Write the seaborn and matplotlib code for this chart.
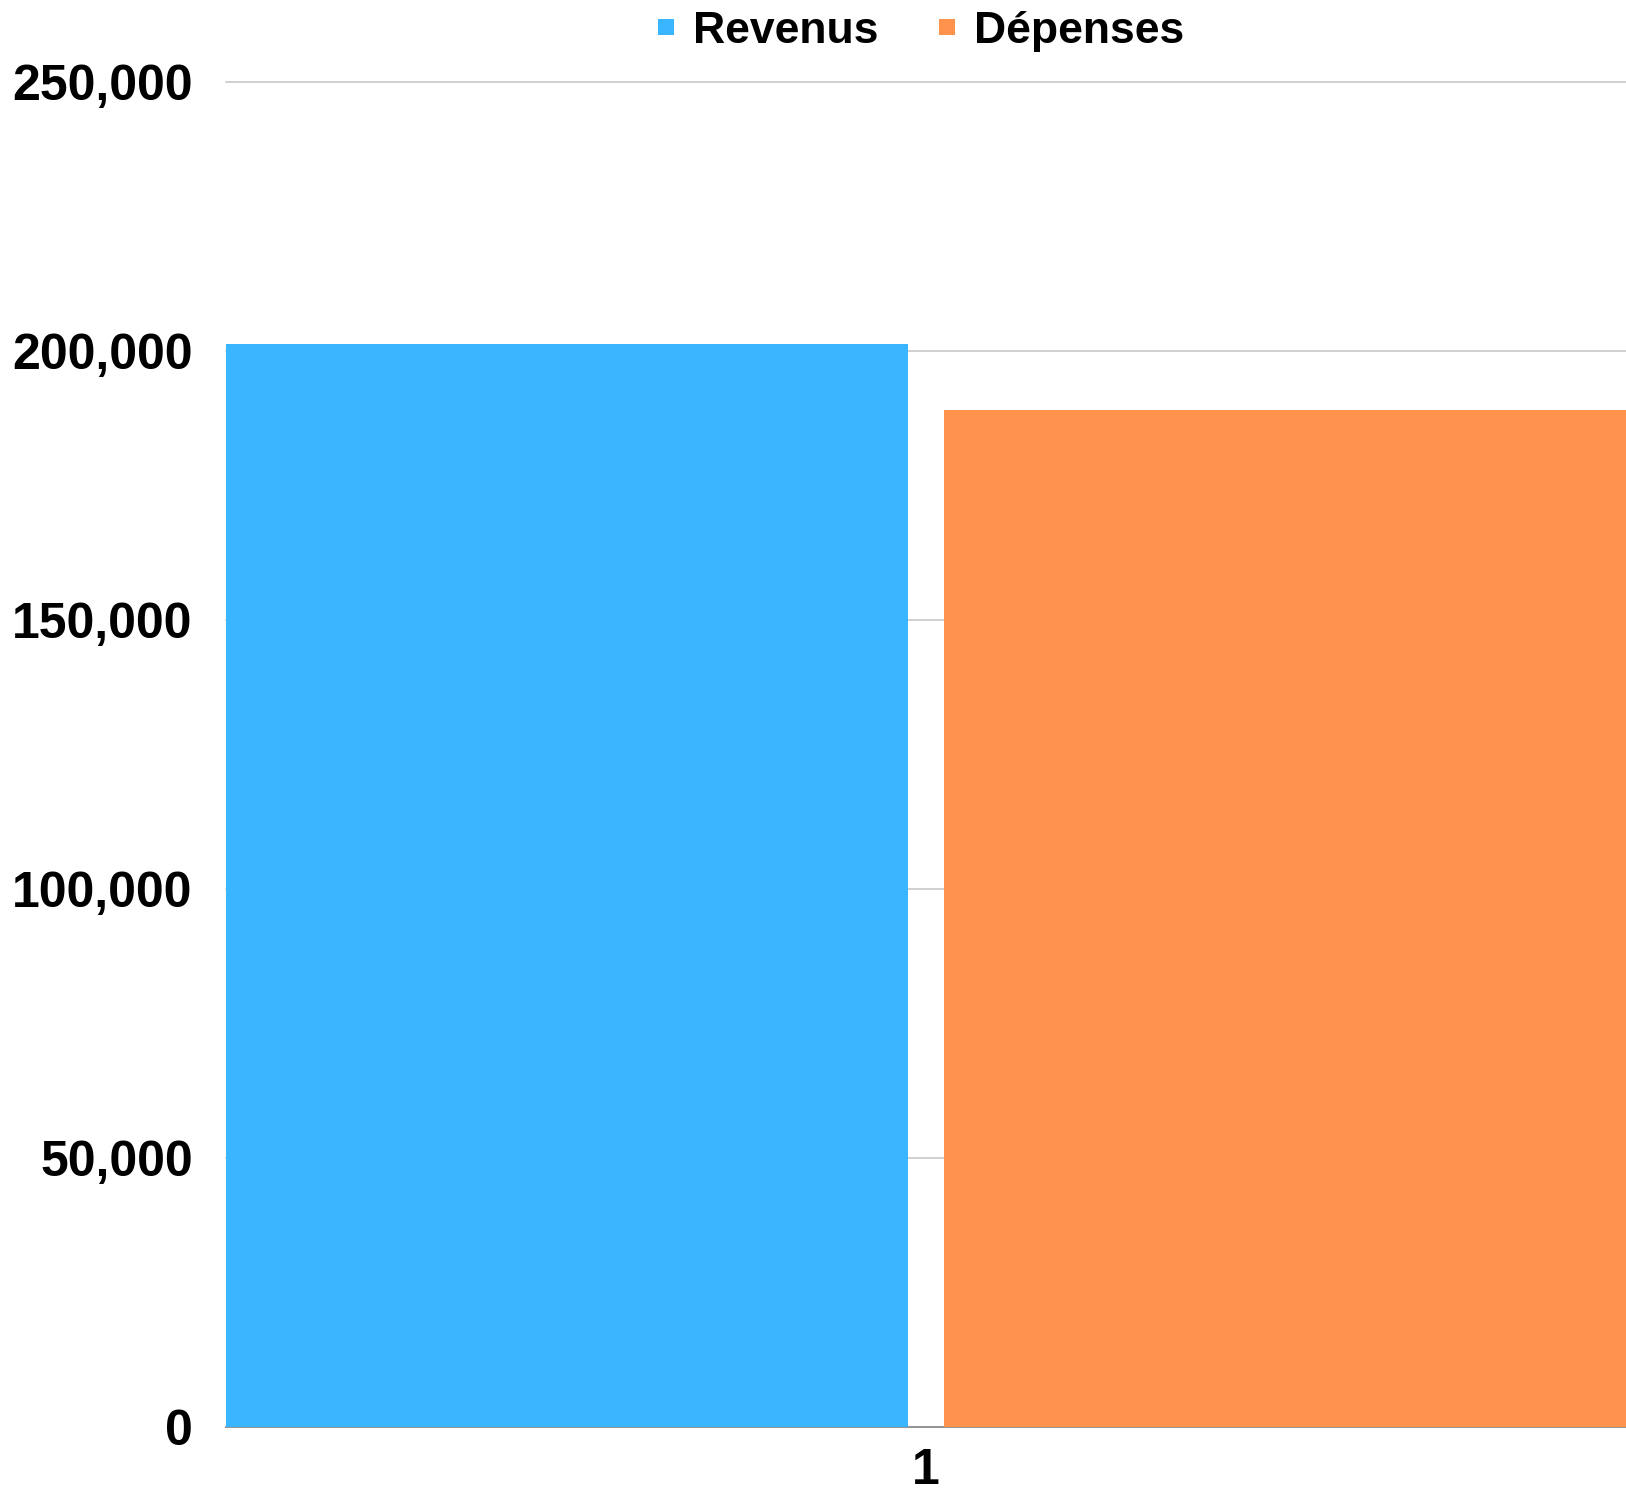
import numpy as np
import pandas as pd
import matplotlib
matplotlib.use("Agg")
import matplotlib.pyplot as plt
from matplotlib.lines import Line2D
from matplotlib.ticker import StrMethodFormatter, MultipleLocator
import seaborn as sns

# data
periods = ["1", "1"]
series = ["Revenus", "Dépenses"]
amounts = [201200, 189000]
colors = ["#39B6FF", "#FF924D"]

df = pd.DataFrame({"Période": periods, "Série": series, "Montant": amounts})

sns.set_style("white")
plt.rcParams["font.family"] = ["Liberation Sans", "DejaVu Sans"]
plt.rcParams["text.color"] = "black"
plt.rcParams["xtick.color"] = "black"
plt.rcParams["ytick.color"] = "black"

fig = plt.figure(figsize=(16.26, 14.91), dpi=100)
# axes placed to match the reference frame (px -> fraction)
ax = fig.add_axes([226 / 1626, 1 - 1427 / 1491, 1400 / 1626, 1345.3 / 1491])

sns.barplot(
    data=df, x="Période", y="Montant", hue="Série",
    palette=colors, saturation=1, width=1.0, gap=0.049,
    linewidth=0, ax=ax, zorder=3, legend=False,
)

# make bars flush with both axis edges
lefts = [p.get_x() for p in ax.patches if p.get_width() > 0]
rights = [p.get_x() + p.get_width() for p in ax.patches if p.get_width() > 0]
ax.set_xlim(min(lefts), max(rights))

ax.set_ylim(0, 250000)
ax.yaxis.set_major_locator(MultipleLocator(50000))
ax.yaxis.set_major_formatter(StrMethodFormatter("{x:,.0f}"))

ax.grid(axis="y", color="#d0d0d0", linewidth=1.4, zorder=0)
for gl in ax.yaxis.get_gridlines():
    gl.set_clip_on(False)
ax.set_axisbelow(True)

for side in ["top", "right", "left"]:
    ax.spines[side].set_visible(False)
ax.spines["bottom"].set_color("#8f8f8f")
ax.spines["bottom"].set_linewidth(1.3)
ax.spines["bottom"].set_zorder(2)

ax.tick_params(axis="y", length=0, pad=24, labelsize=36)
ax.tick_params(axis="x", length=0, pad=15, labelsize=36)
for lab in ax.get_xticklabels() + ax.get_yticklabels():
    lab.set_fontweight("bold")
# labels sit a touch above the gridlines in the reference
for lab in ax.get_yticklabels():
    lab.set_va("center_baseline")

ax.set_xlabel("")
ax.set_ylabel("")

# square markers for the legend, like the reference
handles = [Line2D([], [], marker="s", linestyle="", markersize=12.2,
                  markerfacecolor=c, markeredgewidth=0) for c in colors]
ax.legend(
    handles, series, ncol=2, loc="center", bbox_to_anchor=(0.496, 1.0375),
    frameon=False, prop={"size": 32, "weight": "bold"},
    handlelength=0.4, handletextpad=0.4,
    columnspacing=1.35, borderpad=0,
)

fig.savefig("out.png", dpi=100)
